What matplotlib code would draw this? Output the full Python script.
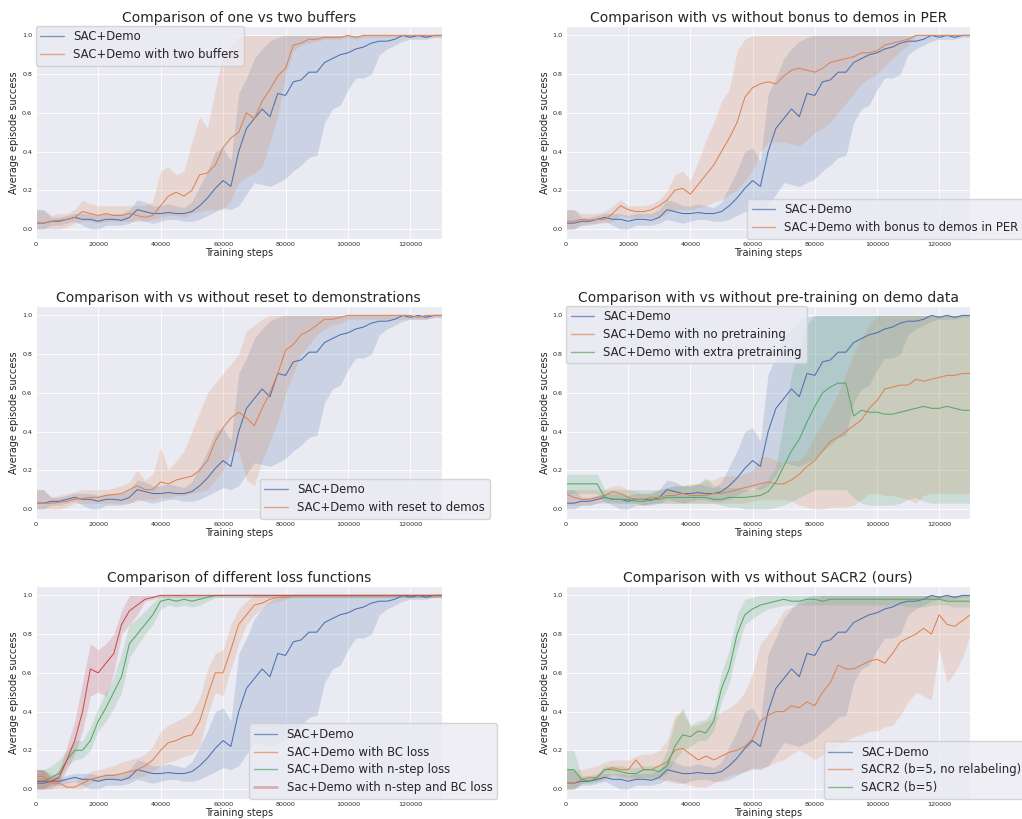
import numpy as np
import matplotlib
matplotlib.use("Agg")
import matplotlib.pyplot as plt
import seaborn as sns
from matplotlib.lines import Line2D

sns.set_style("darkgrid")
plt.rcParams['font.family'] = ['DejaVu Sans']
plt.rcParams['grid.linewidth'] = 0.6

steps = np.arange(0, 130001, 2500)

# ---- SAC+Demo (baseline, same in all panels)
sac_mean = [0.03,0.03,0.04,0.04,0.05,0.06,0.05,0.05,0.04,0.05,
            0.05,0.045,0.06,0.10,0.09,0.08,0.08,0.085,0.08,0.08,
            0.09,0.12,0.16,0.21,0.25,0.22,0.40,0.52,0.57,0.62,
            0.58,0.70,0.69,0.76,0.77,0.81,0.81,0.86,0.88,0.90,
            0.91,0.93,0.94,0.96,0.97,0.97,0.98,1.00,0.99,1.00,
            0.99,1.00,1.00]
sac_lo = [0.00,0.00,0.02,0.02,0.03,0.04,0.02,0.00,0.00,0.02,
          0.02,0.02,0.03,0.05,0.04,0.03,0.04,0.05,0.05,0.04,
          0.04,0.05,0.07,0.09,0.11,0.10,0.12,0.18,0.24,0.23,
          0.22,0.24,0.26,0.30,0.33,0.37,0.38,0.55,0.62,0.64,
          0.72,0.78,0.78,0.80,0.90,0.93,0.95,0.97,0.98,0.98,
          0.98,0.99,0.99]
sac_hi = [0.10,0.10,0.06,0.06,0.07,0.08,0.08,0.08,0.07,0.08,
          0.08,0.08,0.10,0.15,0.14,0.12,0.12,0.13,0.12,0.11,
          0.14,0.22,0.30,0.40,0.42,0.35,0.70,0.78,0.88,0.93,
          0.97,0.99,1.00,1.00,1.00,1.00,1.00,1.00,1.00,1.00,
          1.00,1.00,1.00,1.00,1.00,1.00,1.00,1.00,1.00,1.00,
          1.00,1.00,1.00]

# ---- Panel 1: two buffers
two_mean = [0.03,0.03,0.04,0.045,0.05,0.06,0.09,0.08,0.07,0.08,
            0.07,0.07,0.08,0.07,0.06,0.07,0.12,0.17,0.19,0.17,
            0.20,0.28,0.29,0.33,0.42,0.47,0.50,0.60,0.57,0.66,
            0.72,0.79,0.83,0.95,0.96,0.98,0.98,0.99,0.99,0.99,
            1.00,0.99,1.00,1.00,1.00,1.00,1.00,1.00,1.00,1.00,
            1.00,1.00,1.00]
two_lo = [0.00,0.00,0.00,0.00,0.01,0.03,0.04,0.04,0.03,0.04,
          0.04,0.04,0.04,0.04,0.04,0.05,0.06,0.07,0.07,0.06,
          0.08,0.09,0.10,0.10,0.10,0.15,0.24,0.27,0.29,0.32,
          0.45,0.58,0.80,0.92,0.95,0.96,0.97,0.98,0.98,0.98,
          0.99,0.98,0.99,0.99,0.99,0.99,0.99,0.99,0.99,0.99,
          0.99,0.99,0.99]
two_hi = [0.10,0.10,0.07,0.08,0.08,0.10,0.15,0.13,0.12,0.12,
          0.12,0.12,0.12,0.12,0.12,0.14,0.30,0.32,0.28,0.30,
          0.45,0.58,0.52,0.72,0.90,0.95,0.99,1.00,1.00,1.00,
          1.00,1.00,1.00,1.00,1.00,1.00,1.00,1.00,1.00,1.00,
          1.00,1.00,1.00,1.00,1.00,1.00,1.00,1.00,1.00,1.00,
          1.00,1.00,1.00]

# ---- Panel 2: bonus to demos in PER
per_mean = [0.04,0.04,0.05,0.045,0.05,0.05,0.08,0.12,0.10,0.09,
            0.09,0.10,0.12,0.15,0.20,0.21,0.18,0.23,0.28,0.33,
            0.40,0.47,0.55,0.68,0.73,0.75,0.76,0.75,0.79,0.82,
            0.83,0.82,0.81,0.83,0.86,0.87,0.88,0.89,0.91,0.91,
            0.92,0.95,0.96,0.97,0.98,1.00,1.00,1.00,1.00,1.00,
            1.00,1.00,1.00]
per_lo = [0.00,0.00,0.02,0.03,0.03,0.03,0.04,0.07,0.06,0.06,
          0.06,0.06,0.06,0.08,0.10,0.10,0.10,0.11,0.12,0.14,
          0.15,0.18,0.20,0.25,0.30,0.40,0.45,0.45,0.45,0.44,
          0.43,0.46,0.50,0.52,0.55,0.60,0.65,0.70,0.75,0.78,
          0.80,0.84,0.88,0.92,0.95,1.00,1.00,1.00,1.00,1.00,
          1.00,1.00,1.00]
per_hi = [0.10,0.10,0.08,0.08,0.08,0.09,0.12,0.15,0.12,0.12,
          0.12,0.13,0.15,0.20,0.28,0.30,0.25,0.35,0.46,0.55,
          0.66,0.72,0.92,0.98,1.00,1.00,1.00,1.00,1.00,1.00,
          1.00,1.00,1.00,1.00,1.00,1.00,1.00,1.00,1.00,1.00,
          1.00,1.00,1.00,1.00,1.00,1.00,1.00,1.00,1.00,1.00,
          1.00,1.00,1.00]

# ---- Panel 3: reset to demos
rst_mean = [0.03,0.03,0.03,0.035,0.04,0.05,0.055,0.06,0.06,0.07,
            0.075,0.08,0.10,0.12,0.10,0.10,0.14,0.13,0.15,0.16,
            0.17,0.20,0.25,0.35,0.42,0.47,0.50,0.47,0.43,0.52,
            0.60,0.70,0.82,0.85,0.90,0.92,0.95,0.98,0.98,0.99,
            1.00,1.00,1.00,1.00,1.00,1.00,1.00,1.00,1.00,0.99,
            1.00,1.00,1.00]
rst_lo = [0.00,0.00,0.00,0.00,0.01,0.03,0.03,0.03,0.03,0.03,
          0.03,0.03,0.03,0.04,0.05,0.05,0.06,0.06,0.07,0.07,
          0.08,0.09,0.10,0.15,0.20,0.30,0.30,0.15,0.12,0.25,
          0.35,0.45,0.60,0.70,0.80,0.85,0.90,0.93,0.95,0.96,
          0.98,0.98,0.98,0.98,0.98,0.98,0.98,0.98,0.98,0.98,
          0.98,0.99,0.99]
rst_hi = [0.10,0.10,0.06,0.07,0.08,0.09,0.10,0.10,0.10,0.10,
          0.11,0.12,0.14,0.20,0.15,0.18,0.32,0.20,0.25,0.30,
          0.40,0.50,0.60,0.65,0.70,0.75,0.80,0.92,0.95,0.98,
          1.00,1.00,1.00,1.00,1.00,1.00,1.00,1.00,1.00,1.00,
          1.00,1.00,1.00,1.00,1.00,1.00,1.00,1.00,1.00,1.00,
          1.00,1.00,1.00]

# ---- Panel 4: pre-training
nop_mean = [0.08,0.06,0.05,0.05,0.06,0.07,0.09,0.08,0.06,0.05,
            0.05,0.06,0.06,0.07,0.07,0.08,0.07,0.07,0.07,0.08,
            0.08,0.09,0.10,0.11,0.12,0.13,0.14,0.13,0.13,0.15,
            0.18,0.22,0.25,0.30,0.35,0.37,0.40,0.43,0.46,0.52,
            0.56,0.62,0.63,0.64,0.64,0.67,0.66,0.67,0.68,0.69,
            0.69,0.70,0.70]
nop_lo = [0.02,0.02,0.02,0.02,0.03,0.03,0.04,0.03,0.03,0.03,
          0.02,0.03,0.03,0.03,0.03,0.03,0.03,0.03,0.03,0.03,
          0.03,0.03,0.03,0.03,0.04,0.05,0.05,0.05,0.05,0.04,
          0.02,0.01,0.00,0.00,0.01,0.01,0.01,0.02,0.05,0.08,
          0.08,0.07,0.07,0.06,0.05,0.03,0.07,0.08,0.08,0.08,
          0.08,0.08,0.08]
nop_hi = [0.10,0.10,0.10,0.10,0.10,0.10,0.12,0.12,0.10,0.09,
          0.08,0.09,0.10,0.11,0.12,0.12,0.13,0.13,0.15,0.15,
          0.17,0.17,0.17,0.18,0.20,0.27,0.27,0.25,0.24,0.25,
          0.25,0.30,0.38,0.45,0.52,0.60,0.70,0.80,0.88,0.95,
          1.00,1.00,1.00,1.00,1.00,1.00,1.00,1.00,1.00,1.00,
          1.00,1.00,1.00]
xtr_mean = [0.13,0.13,0.13,0.13,0.13,0.06,0.05,0.05,0.05,0.04,
            0.04,0.05,0.05,0.06,0.06,0.06,0.06,0.06,0.06,0.05,
            0.05,0.06,0.06,0.06,0.065,0.07,0.09,0.14,0.22,0.30,
            0.36,0.45,0.53,0.60,0.63,0.65,0.65,0.48,0.51,0.50,
            0.50,0.49,0.49,0.50,0.51,0.52,0.53,0.52,0.52,0.53,
            0.52,0.51,0.51]
xtr_lo = [0.08,0.08,0.08,0.08,0.08,0.03,0.03,0.03,0.03,0.03,
          0.02,0.03,0.03,0.03,0.03,0.03,0.03,0.03,0.03,0.03,
          0.02,0.01,0.01,0.00,0.00,0.00,0.00,0.01,0.02,0.04,
          0.06,0.08,0.10,0.10,0.10,0.10,0.10,0.06,0.03,0.02,
          0.02,0.02,0.02,0.03,0.05,0.06,0.04,0.03,0.03,0.03,
          0.03,0.03,0.03]
xtr_hi = [0.18,0.18,0.18,0.18,0.18,0.10,0.10,0.10,0.10,0.10,
          0.10,0.10,0.10,0.11,0.12,0.12,0.12,0.13,0.16,0.12,
          0.11,0.11,0.11,0.10,0.10,0.12,0.15,0.22,0.45,0.70,
          0.82,0.95,1.00,1.00,1.00,1.00,1.00,1.00,1.00,1.00,
          1.00,1.00,1.00,1.00,1.00,1.00,1.00,1.00,1.00,1.00,
          1.00,1.00,1.00]

# ---- Panel 5: loss functions
bc_mean = [0.065,0.065,0.03,0.03,0.01,0.01,0.03,0.05,0.06,0.07,
           0.07,0.08,0.09,0.10,0.12,0.15,0.20,0.24,0.25,0.27,
           0.28,0.35,0.48,0.60,0.60,0.72,0.85,0.90,0.95,0.96,
           0.98,0.99,0.99,1.00,1.00,1.00,1.00,1.00,1.00,1.00,
           1.00,1.00,1.00,1.00,1.00,1.00,1.00,1.00,1.00,1.00,
           1.00,1.00,1.00]
bc_lo = [0.00,0.00,0.00,0.00,0.00,0.00,0.00,0.03,0.04,0.05,
         0.05,0.05,0.05,0.06,0.07,0.09,0.12,0.14,0.15,0.17,
         0.18,0.22,0.38,0.50,0.48,0.62,0.75,0.85,0.90,0.93,
         0.96,0.97,0.98,0.99,0.99,0.99,0.99,0.99,0.99,0.99,
         0.99,0.99,0.99,0.99,0.99,0.99,0.99,0.99,0.99,0.99,
         0.99,0.99,0.99]
bc_hi = [0.10,0.10,0.08,0.06,0.04,0.04,0.06,0.09,0.10,0.11,
         0.12,0.14,0.15,0.16,0.18,0.22,0.30,0.33,0.35,0.37,
         0.40,0.47,0.62,0.70,0.72,0.85,0.93,0.97,1.00,1.00,
         1.00,1.00,1.00,1.00,1.00,1.00,1.00,1.00,1.00,1.00,
         1.00,1.00,1.00,1.00,1.00,1.00,1.00,1.00,1.00,1.00,
         1.00,1.00,1.00]
ns_mean = [0.04,0.04,0.06,0.08,0.15,0.20,0.20,0.25,0.35,0.42,
           0.50,0.58,0.75,0.80,0.85,0.90,0.97,0.98,0.97,0.98,
           0.97,0.98,0.99,1.00,1.00,1.00,1.00,1.00,1.00,1.00,
           1.00,1.00,1.00,1.00,1.00,1.00,1.00,1.00,1.00,1.00,
           1.00,1.00,1.00,1.00,1.00,1.00,1.00,1.00,1.00,1.00,
           1.00,1.00,1.00]
ns_lo = [0.00,0.00,0.03,0.05,0.12,0.15,0.16,0.20,0.30,0.35,
         0.42,0.50,0.68,0.74,0.80,0.85,0.93,0.95,0.94,0.95,
         0.94,0.95,0.97,0.99,0.99,0.99,0.99,0.99,0.99,0.99,
         0.99,0.99,0.99,0.99,0.99,0.99,0.99,0.99,0.99,0.99,
         0.99,0.99,0.99,0.99,0.99,0.99,0.99,0.99,0.99,0.99,
         0.99,0.99,0.99]
ns_hi = [0.10,0.10,0.12,0.15,0.20,0.25,0.25,0.32,0.42,0.50,
         0.58,0.70,0.85,0.88,0.92,0.96,1.00,1.00,1.00,1.00,
         1.00,1.00,1.00,1.00,1.00,1.00,1.00,1.00,1.00,1.00,
         1.00,1.00,1.00,1.00,1.00,1.00,1.00,1.00,1.00,1.00,
         1.00,1.00,1.00,1.00,1.00,1.00,1.00,1.00,1.00,1.00,
         1.00,1.00,1.00]
nsbc_mean = [0.04,0.04,0.04,0.06,0.15,0.25,0.40,0.62,0.60,0.65,
             0.70,0.85,0.92,0.95,0.98,0.99,1.00,1.00,1.00,1.00,
             1.00,1.00,1.00,1.00,1.00,1.00,1.00,1.00,1.00,1.00,
             1.00,1.00,1.00,1.00,1.00,1.00,1.00,1.00,1.00,1.00,
             1.00,1.00,1.00,1.00,1.00,1.00,1.00,1.00,1.00,1.00,
             1.00,1.00,1.00]
nsbc_lo = [0.00,0.00,0.00,0.03,0.10,0.18,0.30,0.48,0.50,0.48,
           0.60,0.80,0.85,0.90,0.97,0.98,0.99,0.99,0.99,0.99,
           0.99,0.99,0.99,0.99,0.99,0.99,0.99,0.99,0.99,0.99,
           0.99,0.99,0.99,0.99,0.99,0.99,0.99,0.99,0.99,0.99,
           0.99,0.99,0.99,0.99,0.99,0.99,0.99,0.99,0.99,0.99,
           0.99,0.99,0.99]
nsbc_hi = [0.10,0.10,0.06,0.10,0.22,0.35,0.55,0.75,0.72,0.75,
           0.80,0.92,1.00,1.00,1.00,1.00,1.00,1.00,1.00,1.00,
           1.00,1.00,1.00,1.00,1.00,1.00,1.00,1.00,1.00,1.00,
           1.00,1.00,1.00,1.00,1.00,1.00,1.00,1.00,1.00,1.00,
           1.00,1.00,1.00,1.00,1.00,1.00,1.00,1.00,1.00,1.00,
           1.00,1.00,1.00]

# ---- Panel 6: SACR2
nr_mean = [0.03,0.03,0.05,0.06,0.06,0.10,0.11,0.10,0.10,0.15,
           0.10,0.10,0.12,0.14,0.20,0.21,0.18,0.15,0.17,0.15,
           0.17,0.19,0.20,0.22,0.26,0.35,0.38,0.40,0.40,0.43,
           0.42,0.45,0.43,0.50,0.55,0.64,0.62,0.62,0.64,0.66,
           0.67,0.65,0.70,0.76,0.78,0.80,0.83,0.80,0.90,0.85,
           0.84,0.87,0.90]
nr_lo = [0.00,0.00,0.03,0.04,0.04,0.05,0.07,0.06,0.05,0.05,
         0.05,0.05,0.05,0.04,0.03,0.03,0.02,0.01,0.01,0.03,
         0.05,0.07,0.08,0.09,0.10,0.11,0.12,0.14,0.15,0.18,
         0.20,0.18,0.15,0.18,0.20,0.22,0.25,0.27,0.28,0.30,
         0.30,0.32,0.33,0.38,0.45,0.50,0.48,0.46,0.72,0.55,
         0.60,0.68,0.80]
nr_hi = [0.10,0.10,0.10,0.11,0.12,0.14,0.15,0.15,0.15,0.17,
         0.18,0.18,0.20,0.25,0.38,0.40,0.32,0.33,0.35,0.37,
         0.40,0.42,0.45,0.50,0.60,0.75,0.80,0.85,0.92,0.94,
         0.95,0.97,0.98,1.00,1.00,1.00,1.00,1.00,1.00,1.00,
         1.00,1.00,1.00,1.00,1.00,1.00,1.00,1.00,1.00,1.00,
         1.00,1.00,1.00]
r2_mean = [0.10,0.10,0.05,0.04,0.06,0.10,0.10,0.09,0.08,0.08,
           0.10,0.10,0.09,0.12,0.22,0.28,0.27,0.30,0.29,0.35,
           0.52,0.62,0.80,0.90,0.93,0.95,0.96,0.97,0.98,0.97,
           0.97,0.98,0.98,0.97,0.98,0.98,0.98,0.98,0.98,0.98,
           0.98,0.98,0.98,0.98,0.98,0.98,0.98,0.98,0.98,0.97,
           0.97,0.97,0.97]
r2_lo = [0.00,0.00,0.03,0.03,0.04,0.06,0.08,0.07,0.06,0.06,
         0.06,0.06,0.06,0.08,0.15,0.20,0.22,0.25,0.25,0.30,
         0.45,0.55,0.72,0.85,0.88,0.91,0.93,0.94,0.95,0.95,
         0.95,0.95,0.95,0.95,0.95,0.95,0.95,0.95,0.95,0.95,
         0.95,0.95,0.95,0.95,0.94,0.94,0.94,0.95,0.95,0.95,
         0.94,0.94,0.94]
r2_hi = [0.20,0.20,0.07,0.07,0.08,0.12,0.12,0.12,0.11,0.11,
         0.12,0.12,0.12,0.20,0.35,0.42,0.33,0.35,0.36,0.42,
         0.60,0.72,0.90,0.98,0.99,1.00,1.00,1.00,1.00,1.00,
         1.00,1.00,1.00,1.00,1.00,1.00,1.00,1.00,1.00,1.00,
         1.00,1.00,1.00,1.00,1.00,1.00,1.00,1.00,1.00,1.00,
         1.00,1.00,1.00]

titles = ["Comparison of one vs two buffers",
          "Comparison with vs without bonus to demos in PER",
          "Comparison with vs without reset to demonstrations",
          "Comparison with vs without pre-training on demo data",
          "Comparison of different loss functions",
          "Comparison with vs without SACR2 (ours)"]

BLUE, ORANGE, GREEN, RED = "#4c72b0", "#dd8452", "#55a868", "#c44e52"
sac = (sac_mean, sac_lo, sac_hi)

panels = [
    [("SAC+Demo", sac, BLUE), ("SAC+Demo with two buffers", (two_mean, two_lo, two_hi), ORANGE)],
    [("SAC+Demo", sac, BLUE), ("SAC+Demo with bonus to demos in PER", (per_mean, per_lo, per_hi), ORANGE)],
    [("SAC+Demo", sac, BLUE), ("SAC+Demo with reset to demos", (rst_mean, rst_lo, rst_hi), ORANGE)],
    [("SAC+Demo", sac, BLUE), ("SAC+Demo with no pretraining", (nop_mean, nop_lo, nop_hi), ORANGE),
     ("SAC+Demo with extra pretraining", (xtr_mean, xtr_lo, xtr_hi), GREEN)],
    [("SAC+Demo", sac, BLUE), ("SAC+Demo with BC loss", (bc_mean, bc_lo, bc_hi), ORANGE),
     ("SAC+Demo with n-step loss", (ns_mean, ns_lo, ns_hi), GREEN),
     ("Sac+Demo with n-step and BC loss", (nsbc_mean, nsbc_lo, nsbc_hi), RED)],
    [("SAC+Demo", sac, BLUE), ("SACR2 (b=5, no relabeling)", (nr_mean, nr_lo, nr_hi), ORANGE),
     ("SACR2 (b=5)", (r2_mean, r2_lo, r2_hi), GREEN)],
]

# legend placement: (loc, anchor)
legend_pos = [("upper left", (0.0, 1.0)), ("lower left", (0.448, 0.0)),
              ("lower left", (0.552, 0.0)), ("upper left", (0.0, 1.0)),
              ("lower left", (0.526, 0.0)), ("lower left", (0.637, 0.0))]

fig = plt.figure(figsize=(10.22, 8.19), dpi=100)
W, H = 1022.0, 819.0
lefts = [35.7, 566.0]
widths = [406.0, 404.3]
tops = [25.7, 305.7, 585.7]
ah = 213.0

for i, (series, title) in enumerate(zip(panels, titles)):
    r, c = divmod(i, 2)
    ax = fig.add_axes([lefts[c] / W, 1 - (tops[r] + ah) / H, widths[c] / W, ah / H])
    handles = []
    for j, (label, (m, lo, hi), col) in enumerate(series):
        ax.fill_between(steps, lo, hi, color=col, alpha=0.2, linewidth=0)
        ax.plot(steps, m, color=col, lw=0.75)
        if i == 4 and j == 3:
            handles.append(Line2D([], [], color=col, lw=2.0, alpha=0.4))
        else:
            handles.append(Line2D([], [], color=col, lw=1.0, alpha=0.7))
    ax.set_xlim(0, 130000)
    ax.set_ylim(-0.05, 1.05)
    ax.set_xticks([0, 20000, 40000, 60000, 80000, 100000, 120000])
    ax.set_yticks([0.0, 0.2, 0.4, 0.6, 0.8, 1.0])
    ax.tick_params(labelsize=4.6, pad=2.5, length=0)
    ax.set_title(title, fontsize=10, pad=3, color="#262626")
    ax.set_xlabel("Training steps", fontsize=7, labelpad=0.5)
    ax.set_ylabel("Average episode success", fontsize=7, labelpad=2)
    loc, anc = legend_pos[i]
    ax.legend(handles, [s[0] for s in series], loc=loc, bbox_to_anchor=anc,
              borderaxespad=0, fontsize=8.4, handlelength=2.0, labelspacing=0.4)

fig.savefig("out.png", dpi=100)
